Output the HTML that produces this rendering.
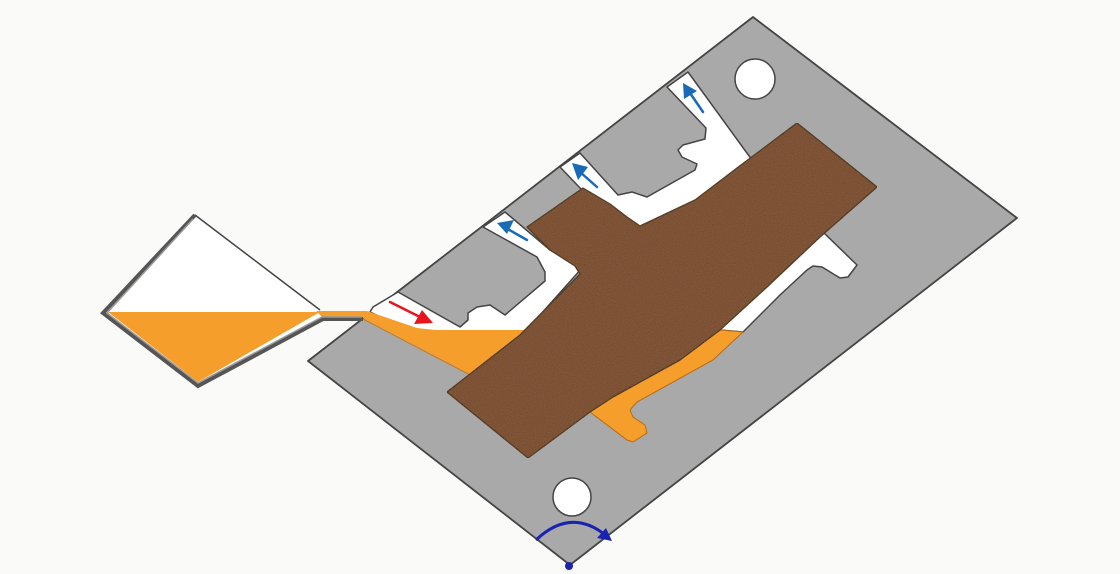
<!DOCTYPE html>
<html><head><meta charset="utf-8"><style>html,body{margin:0;padding:0;background:#fafaf8}svg{display:block}</style></head>
<body>
<svg width="1120" height="574" viewBox="0 0 1120 574" xmlns="http://www.w3.org/2000/svg">
<defs>
<filter id="tx" x="0" y="0" width="100%" height="100%">
<feTurbulence type="fractalNoise" baseFrequency="0.9" numOctaves="2" seed="3" result="n"/>
<feColorMatrix in="n" type="matrix" values="0 0 0 0 0.3  0 0 0 0 0.17  0 0 0 0 0.08  0 0 0 0.5 0" result="c"/>
<feComposite in="c" in2="SourceGraphic" operator="in" result="m"/>
<feMerge><feMergeNode in="SourceGraphic"/><feMergeNode in="m"/></feMerge>
</filter>
</defs>
<rect width="1120" height="574" fill="#fafaf8"/>
<polygon points="308,361 753,17 1017,218 570,565" fill="#a9a9a9" stroke="#444" stroke-width="1.8" stroke-linejoin="round"/>
<circle cx="755" cy="79" r="20" fill="#fff" stroke="#444" stroke-width="1.5"/>
<circle cx="572" cy="497" r="19" fill="#fff" stroke="#444" stroke-width="1.5"/>
<polygon points="373,307 398,292 460,327 468,320 468,313 477,307 490,305 505,315 545,281 545,272 537,257 483,227 505,212 550,250 582,268 500,360 430,340 370,312" fill="#fff" stroke="#444" stroke-width="1.5" stroke-linejoin="round"/>
<polygon points="560,167 580,153 618,195 632,192 647,197 695,170 697,164 682,157 678,150 683,145 705,139 706,128 667,87 688,72 752,160 700,200 640,228 600,205 582,190" fill="#fff" stroke="#444" stroke-width="1.5" stroke-linejoin="round"/>
<polygon points="700,330 720,330 743,332 780,295 807,270 813,266 822,267 840,278 848,277 857,265 823,232 800,220 760,280" fill="#fff" stroke="#444" stroke-width="1.5" stroke-linejoin="round"/>
<polygon points="195,215 103,313 198,386 323,318 320,310" fill="#fff"/>
<polygon points="108,312 320,312 198,382" fill="#f59e2c"/>
<polygon points="316,311 367,311 417,328 435,330 530,330 500,380 470,374 363,318 323,318" fill="#f59e2c"/>
<line x1="320" y1="310" x2="195" y2="215" stroke="#444" stroke-width="1.5"/>
<polyline points="195,215 103,313 198,386 323,319 363,319" fill="none" stroke="#555" stroke-width="4"/>
<polyline points="193,219 107,313 198,383 322,317 362,317" fill="none" stroke="#9a9a9a" stroke-width="1.5"/>
<line x1="363" y1="319" x2="470" y2="375" stroke="#d07a10" stroke-width="1"/>
<polygon points="560,430 600,400 613,397 680,360 720,330 743,332 713,360 637,402 630,410 633,417 645,425 647,433 633,442 627,440 590,412" fill="#f59e2c" stroke="#b86c10" stroke-width="1"/>
<polygon points="447,392 520,335 580,274 575,266 550,250 527,227 583,188 610,204 627,217 640,226 695,200 737,168 797,123 877,187 820,237 767,287 720,330 680,360 613,397 590,412 528,458" fill="#74452a" stroke="#2a1a10" stroke-width="1.3" stroke-linejoin="round" filter="url(#tx)"/>
<g stroke-linecap="round">
<line x1="390" y1="302" x2="420" y2="317" stroke="#e8141e" stroke-width="2.5"/>
<polygon points="433,323 414,324 422,310" fill="#e8141e"/>
<line x1="527" y1="240" x2="506" y2="228" stroke="#1a6bb5" stroke-width="2.5"/>
<polygon points="497,223 514,220 507,234" fill="#1a6bb5"/>
<line x1="597" y1="187" x2="580" y2="172" stroke="#1a6bb5" stroke-width="2.5"/>
<polygon points="572,163 588,167 578,180" fill="#1a6bb5"/>
<line x1="703" y1="112" x2="690" y2="93" stroke="#1a6bb5" stroke-width="2.5"/>
<polygon points="683,83 697,91 684,99" fill="#1a6bb5"/>
</g>
<path d="M536,540 Q570,508 604,534" fill="none" stroke="#1a22b0" stroke-width="3"/>
<polygon points="612,541 597,538 606,528" fill="#1a22b0"/>
<circle cx="569" cy="566" r="4" fill="#1a22b0"/>
</svg>
</body></html>
